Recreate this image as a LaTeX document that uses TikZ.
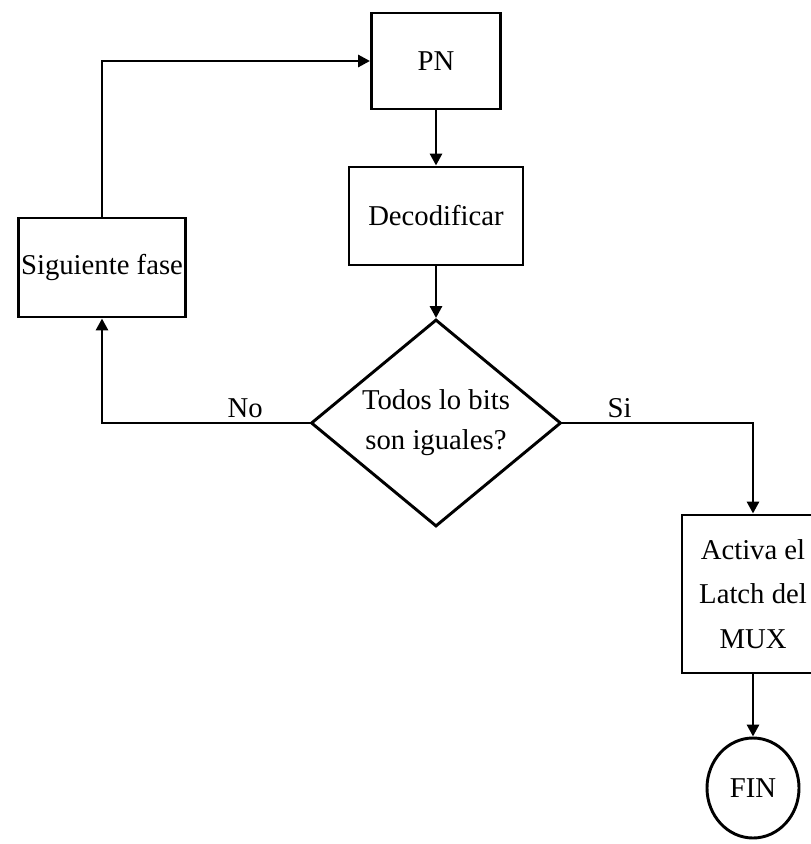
\documentclass[tikz,border=0pt]{standalone}
\usepackage{fontspec}
\setmainfont{Liberation Serif}
\usetikzlibrary{shapes.geometric,arrows.meta}

\begin{document}
\begin{tikzpicture}[x=0.03cm,y=-0.03cm,line width=2.5pt,
  every node/.style={font=\fontsize{24.5}{38}\selectfont},
  box/.style={draw,align=center,inner sep=0pt},
  >={Triangle[width=0.36cm,length=0.36cm]}]
\useasboundingbox (0,0) rectangle (810,844);
\node[box,minimum width=3.87cm,minimum height=2.88cm] at (436, 61) (pn) {PN};
\node[box,minimum width=5.22cm,minimum height=2.94cm] at (436, 216) (deco) {Decodificar};
\node[box,minimum width=5.01cm,minimum height=2.97cm] at (102, 267.5) (sig) {Siguiente fase};
\node[box,diamond,shape aspect=1.2,minimum width=7.5cm,minimum height=6.21cm,
  font=\fontsize{24.5}{34}\selectfont] at (436, 423) (dia) {Todos lo bits\\son iguales?};
\node[box,minimum width=4.26cm,minimum height=4.74cm] at (753, 594) (latch) {Activa el\\Latch del\\MUX};
\node[box,ellipse,minimum width=2.76cm,minimum height=3cm] at (753, 788) (fin) {FIN};
\draw[->] (pn) -- (deco);
\draw[->] (deco) -- (dia);
\draw[->] (dia.west) -| node[above,pos=0.155] (no) {No} (sig.south);
\draw[->] (sig.north) |- (pn.west);
\draw[->] (dia.east) -| node[above,pos=0.15] (si) {Si} (latch.north);
\draw[->] (latch) -- (fin);
\end{tikzpicture}
\end{document}
